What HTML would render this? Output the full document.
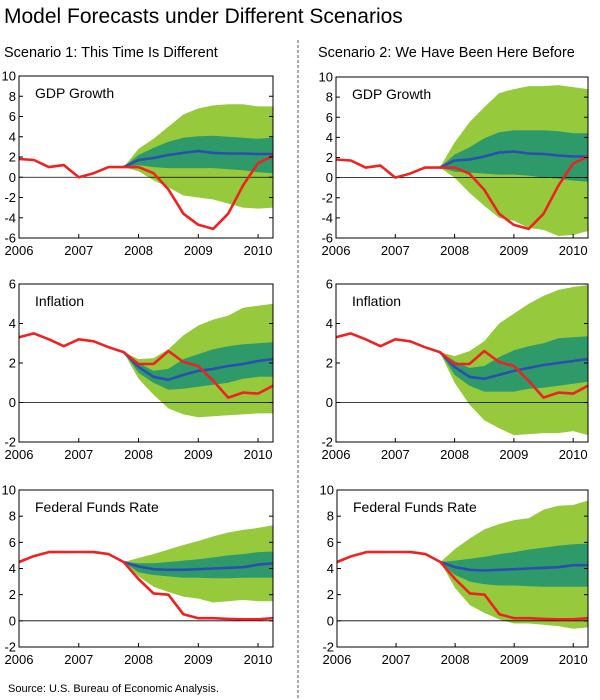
<!DOCTYPE html>
<html><head><meta charset="utf-8"><style>html,body{margin:0;padding:0;background:#fff}svg{display:block;font-family:"Liberation Sans",Arial,sans-serif}</style></head>
<body>
<svg id="chart" width="600" height="700" viewBox="0 0 600 700" xmlns="http://www.w3.org/2000/svg">
<text x="4" y="23" font-size="21" fill="#000">Model Forecasts under Different Scenarios</text>
<text x="4" y="57" font-size="14.5" fill="#000">Scenario 1: This Time Is Different</text>
<text x="318" y="57" font-size="14.5" fill="#000">Scenario 2: We Have Been Here Before</text>
<line x1="298" y1="40" x2="298" y2="700" stroke="#555" stroke-width="1" stroke-dasharray="3,2"/>
<text x="8" y="692" font-size="11" fill="#000">Source: U.S. Bureau of Economic Analysis.</text>
</svg>
<script>
// shared x data
const years = [2006, 2007, 2008, 2009, 2010];
const actualQuarters = [2006,2006.25,2006.5,2006.75,2007,2007.25,2007.5,2007.75,2008,2008.25,2008.5,2008.75,2009,2009.25,2009.5,2009.75,2010,2010.25];
const forecastQuarters = [2007.75,2008,2008.25,2008.5,2008.75,2009,2009.25,2009.5,2009.75,2010,2010.25];

// GDP
const gdpActual = [1.8,1.7,1.0,1.2,0.0,0.4,1.0,1.0,1.0,0.4,-1.2,-3.6,-4.7,-5.1,-3.6,-0.8,1.4,2.1];
const gdpTicks = [-6,-4,-2,0,2,4,6,8,10];
const s1GdpMean = [1.0,1.7,1.9,2.2,2.4,2.6,2.4,2.35,2.35,2.3,2.3];
const s1GdpDarkHi = [1,2.2,2.9,3.5,3.9,4.05,4.1,4.0,3.9,3.8,3.9];
const s1GdpDarkLo = [1,1.2,1.0,0.9,0.9,0.9,0.9,0.8,0.7,0.5,0.4];
const s1GdpLightHi = [1,2.8,3.8,5.0,6.2,6.8,7.1,7.2,7.2,7.0,7.0];
const s1GdpLightLo = [1,0.6,-0.3,-1.0,-1.8,-2.0,-2.2,-2.6,-3.0,-3.1,-3.0];
const s2GdpMean = [1.0,1.7,1.8,2.1,2.5,2.6,2.4,2.35,2.2,2.1,2.1];
const s2GdpDarkHi = [1,2.3,3.0,3.9,4.5,4.7,4.7,4.7,4.6,4.4,4.4];
const s2GdpDarkLo = [1,0.6,0.5,0.4,0.3,0.3,0.2,0,-0.1,-0.3,-0.4];
const s2GdpLightHi = [1,3.5,5.5,7.0,8.4,8.8,9.1,9.1,9.2,9.0,8.8];
const s2GdpLightLo = [1,0.0,-1.5,-2.8,-4.0,-4.3,-5.0,-5.2,-5.8,-5.7,-5.3];

// Inflation
const infActual = [3.3,3.5,3.2,2.85,3.2,3.1,2.8,2.55,1.95,1.95,2.6,2.05,1.85,1.1,0.25,0.5,0.45,0.85];
const infTicks = [-2,0,2,4,6];
const s1InfMean = [2.55,1.8,1.3,1.15,1.4,1.6,1.7,1.85,1.95,2.1,2.2];
const s1InfDarkHi = [2.55,2.0,1.6,1.7,2.2,2.45,2.7,2.85,2.95,3.0,3.05];
const s1InfDarkLo = [2.55,1.5,1.0,0.65,0.7,0.8,0.9,1.0,1.2,1.3,1.3];
const s1InfLightHi = [2.55,2.2,2.25,2.7,3.4,3.9,4.2,4.4,4.8,4.9,5.0];
const s1InfLightLo = [2.55,1.2,0.4,-0.3,-0.6,-0.75,-0.7,-0.65,-0.6,-0.55,-0.55];
const s2InfMean = [2.55,1.8,1.3,1.2,1.4,1.6,1.75,1.9,2.0,2.1,2.2];
const s2InfDarkHi = [2.55,2.1,1.75,1.85,2.3,2.65,2.85,3.0,3.25,3.3,3.35];
const s2InfDarkLo = [2.55,1.4,0.85,0.55,0.55,0.55,0.7,0.75,0.85,0.95,1.05];
const s2InfLightHi = [2.55,2.35,2.6,3.1,4.0,4.5,5.0,5.4,5.7,5.85,5.95];
const s2InfLightLo = [2.55,1.0,-0.1,-0.9,-1.3,-1.65,-1.6,-1.55,-1.55,-1.45,-1.65];

// Federal funds
const ffActual = [4.5,4.95,5.25,5.25,5.26,5.25,5.1,4.5,3.2,2.1,2.0,0.5,0.2,0.2,0.15,0.12,0.12,0.2];
const ffTicks = [-2,0,2,4,6,8,10];
const s1FfMean = [4.5,4.15,3.95,3.9,3.9,3.95,4.0,4.05,4.1,4.3,4.4];
const s1FfDarkHi = [4.5,4.4,4.4,4.5,4.6,4.7,4.85,5.0,5.1,5.25,5.3];
const s1FfDarkLo = [4.5,3.7,3.5,3.4,3.3,3.3,3.25,3.25,3.3,3.3,3.3];
const s1FfLightHi = [4.5,4.8,5.1,5.45,5.8,6.1,6.45,6.75,6.95,7.1,7.3];
const s1FfLightLo = [4.5,3.4,2.6,2.2,1.85,1.7,1.4,1.5,1.6,1.5,1.5];
const s2FfMean = [4.5,4.1,3.9,3.85,3.9,3.95,4.0,4.05,4.1,4.25,4.25];
const s2FfDarkHi = [4.5,4.6,4.75,4.9,5.1,5.25,5.45,5.6,5.75,5.85,5.9];
const s2FfDarkLo = [4.5,3.5,3.0,2.8,2.7,2.7,2.65,2.6,2.6,2.6,2.6];
const s2FfLightHi = [4.5,5.5,6.3,7.0,7.4,7.7,7.85,8.5,8.8,8.85,9.2];
const s2FfLightLo = [4.5,2.5,1.2,0.6,0.1,-0.2,-0.2,-0.3,-0.4,-0.6,-0.5];

const NS = "http://www.w3.org/2000/svg";
const svg = document.getElementById('chart');
function mk(tag, attrs, parent) {
  const e = document.createElementNS(NS, tag);
  for (const k in attrs) e.setAttribute(k, attrs[k]);
  (parent || svg).appendChild(e);
  return e;
}

const panels = [
  {id:'s1-gdp', title:'GDP Growth', x0:19, x1:273, y0:76, y1:238, ymin:-6, ymax:10, ticks:gdpTicks, act:gdpActual, mean:s1GdpMean, dh:s1GdpDarkHi, dl:s1GdpDarkLo, lh:s1GdpLightHi, ll:s1GdpLightLo},
  {id:'s2-gdp', title:'GDP Growth', x0:336, x1:588, y0:77, y1:238, ymin:-6, ymax:10, ticks:gdpTicks, act:gdpActual, mean:s2GdpMean, dh:s2GdpDarkHi, dl:s2GdpDarkLo, lh:s2GdpLightHi, ll:s2GdpLightLo},
  {id:'s1-inflation', title:'Inflation', x0:19, x1:273, y0:284, y1:442, ymin:-2, ymax:6, ticks:infTicks, act:infActual, mean:s1InfMean, dh:s1InfDarkHi, dl:s1InfDarkLo, lh:s1InfLightHi, ll:s1InfLightLo},
  {id:'s2-inflation', title:'Inflation', x0:336, x1:588, y0:284, y1:442, ymin:-2, ymax:6, ticks:infTicks, act:infActual, mean:s2InfMean, dh:s2InfDarkHi, dl:s2InfDarkLo, lh:s2InfLightHi, ll:s2InfLightLo},
  {id:'s1-fed-funds', title:'Federal Funds Rate', x0:19, x1:273, y0:490, y1:647, ymin:-2, ymax:10, ticks:ffTicks, act:ffActual, mean:s1FfMean, dh:s1FfDarkHi, dl:s1FfDarkLo, lh:s1FfLightHi, ll:s1FfLightLo},
  {id:'s2-fed-funds', title:'Federal Funds Rate', x0:337, x1:588, y0:490, y1:647, ymin:-2, ymax:10, ticks:ffTicks, act:ffActual, mean:s2FfMean, dh:s2FfDarkHi, dl:s2FfDarkLo, lh:s2FfLightHi, ll:s2FfLightLo}
];

panels.forEach(p => {
  const xs = t => p.x0 + (t - 2006) / 4.25 * (p.x1 - p.x0);
  const ys = v => p.y1 - (v - p.ymin) / (p.ymax - p.ymin) * (p.y1 - p.y0);
  const g = mk('g', {});
  
  
  const band = (hi, lo) => {
    let d = '';
    forecastQuarters.forEach((t, i) => d += (i ? 'L' : 'M') + xs(t).toFixed(1) + ',' + ys(hi[i]).toFixed(1));
    for (let i = forecastQuarters.length - 1; i >= 0; i--) d += 'L' + xs(forecastQuarters[i]).toFixed(1) + ',' + ys(lo[i]).toFixed(1);
    return d + 'Z';
  };
  const light = mk('path', {d: band(p.lh, p.ll), fill: '#97c93d'}, g);
  
  
  const dark = mk('path', {d: band(p.dh, p.dl), fill: '#2e9a6a'}, g);
  
  
  const zero = mk('line', {x1: p.x0, x2: p.x1, y1: ys(0), y2: ys(0), stroke: '#000', 'stroke-width': 0.8}, g);
  
  
  const line = (ts, vs) => ts.map((t, i) => xs(t).toFixed(1) + ',' + ys(vs[i]).toFixed(1)).join(' ');
  const mean = mk('polyline', {points: line(forecastQuarters, p.mean), fill: 'none', stroke: '#2b4fae', 'stroke-width': 2.6, 'stroke-linejoin': 'round'}, g);
  
  
  const act = mk('polyline', {points: line(actualQuarters, p.act), fill: 'none', stroke: '#ee2222', 'stroke-width': 2.6, 'stroke-linejoin': 'round'}, g);
  
  
  const frame = mk('rect', {x: p.x0, y: p.y0, width: p.x1 - p.x0, height: p.y1 - p.y0, fill: 'none', stroke: '#000', 'stroke-width': 1}, g);
  
  
  p.ticks.forEach(v => {
    const y = ys(v);
    mk('line', {x1: p.x0, x2: p.x0 + 4, y1: y, y2: y, stroke: '#000'}, g);
    mk('line', {x1: p.x1 - 4, x2: p.x1, y1: y, y2: y, stroke: '#000'}, g);
    const tl = mk('text', {x: p.x0 - 3, y: y + 4.5, 'font-size': 13, 'text-anchor': 'end', fill: '#000'}, g);
    
    
    tl.textContent = v;
  });
  years.forEach(yr => {
    const x = xs(yr);
    mk('line', {x1: x, x2: x, y1: p.y1, y2: p.y1 - 4, stroke: '#000'}, g);
    const tl = mk('text', {x: x, y: p.y1 + 17, 'font-size': 13, 'text-anchor': 'middle', fill: '#000'}, g);
    
    
    tl.textContent = yr;
  });
  const t = mk('text', {x: p.x0 + 16, y: p.y0 + 22, 'font-size': 14, fill: '#000'}, g);
  
  
  t.textContent = p.title;
});
</script>
</body></html>
